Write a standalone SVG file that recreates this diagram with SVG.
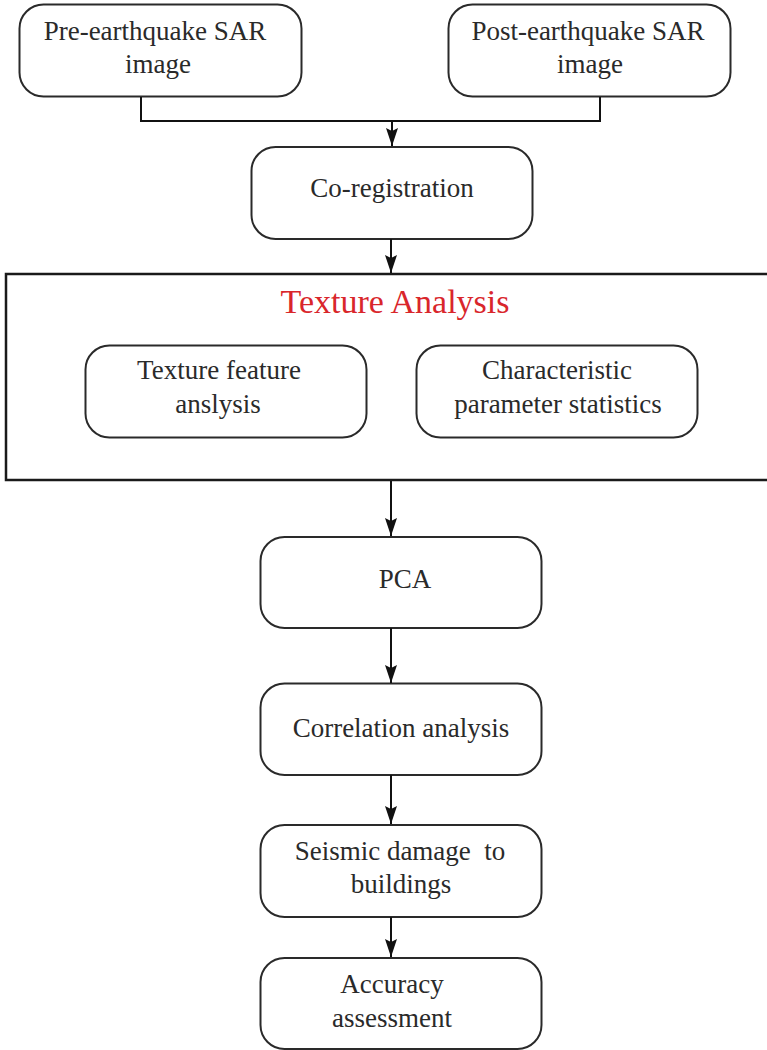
<svg xmlns="http://www.w3.org/2000/svg" width="767" height="1050" viewBox="0 0 767 1050">
<style>
.box{fill:#fff;stroke:#2a2a2a;stroke-width:2}
.t{font-family:"Liberation Serif","Times New Roman",serif;font-size:27px;fill:#2a2a2a;text-anchor:middle;white-space:pre}
.title{font-family:"Liberation Serif","Times New Roman",serif;font-size:34px;fill:#d9262b;text-anchor:middle}
.c{fill:none;stroke:#111;stroke-width:2}
</style>
<defs>
<marker id="ad" markerUnits="userSpaceOnUse" markerWidth="14" markerHeight="20" viewBox="0 0 14 20" refX="7" refY="19" orient="0">
<path d="M1,1 L7,4 L13,1 L7,19 Z" fill="#111"/>
</marker>
</defs>
<rect fill="#fff" x="0" y="0" width="767" height="1050"/>

<g id="texture-analysis">
<rect x="6" y="274" width="775" height="206" fill="#fff" stroke="#1a1a1a" stroke-width="2.5"/>
<text class="title" x="395" y="313">Texture Analysis</text>
</g>

<g id="pre">
<rect class="box" x="19.5" y="4.5" width="282" height="92" rx="24"/>
<text class="t" x="155" y="40">Pre-earthquake SAR</text>
<text class="t" x="158" y="73">image</text>
</g>
<g id="post">
<rect class="box" x="448.5" y="4.5" width="282" height="92" rx="24"/>
<text class="t" x="588" y="40">Post-earthquake SAR</text>
<text class="t" x="590" y="73">image</text>
</g>
<g id="coreg">
<rect class="box" x="251.5" y="147" width="281" height="92" rx="24"/>
<text class="t" x="392" y="197">Co-registration</text>
</g>
<g id="tfa">
<rect class="box" x="85.5" y="345.5" width="281" height="92" rx="24"/>
<text class="t" x="219" y="379">Texture feature</text>
<text class="t" x="218" y="413">anslysis</text>
</g>
<g id="cps">
<rect class="box" x="416.5" y="345.5" width="281" height="92" rx="24"/>
<text class="t" x="557" y="379">Characteristic</text>
<text class="t" x="558" y="413">parameter statistics</text>
</g>
<g id="pca">
<rect class="box" x="260.5" y="537" width="281" height="91" rx="24"/>
<text class="t" x="405" y="588">PCA</text>
</g>
<g id="corr">
<rect class="box" x="260.5" y="683.5" width="281" height="91.5" rx="24"/>
<text class="t" x="401" y="737">Correlation analysis</text>
</g>
<g id="seismic">
<rect class="box" x="260.5" y="825" width="281" height="92" rx="24"/>
<text class="t" x="400" y="860">Seismic damage  to</text>
<text class="t" x="401" y="893">buildings</text>
</g>
<g id="accuracy">
<rect class="box" x="260.5" y="958" width="281" height="91" rx="24"/>
<text class="t" x="392" y="993">Accuracy</text>
<text class="t" x="392" y="1027">assessment</text>
</g>

<g id="connectors">
<path class="c" d="M141,97 V121 H600 V97"/>
<path class="c" d="M392,121 V146" marker-end="url(#ad)"/>
<path class="c" d="M391,239 V273" marker-end="url(#ad)"/>
<path class="c" d="M391,481 V536" marker-end="url(#ad)"/>
<path class="c" d="M391,628 V683" marker-end="url(#ad)"/>
<path class="c" d="M391,775 V824" marker-end="url(#ad)"/>
<path class="c" d="M391,917 V957" marker-end="url(#ad)"/>
</g>
</svg>
